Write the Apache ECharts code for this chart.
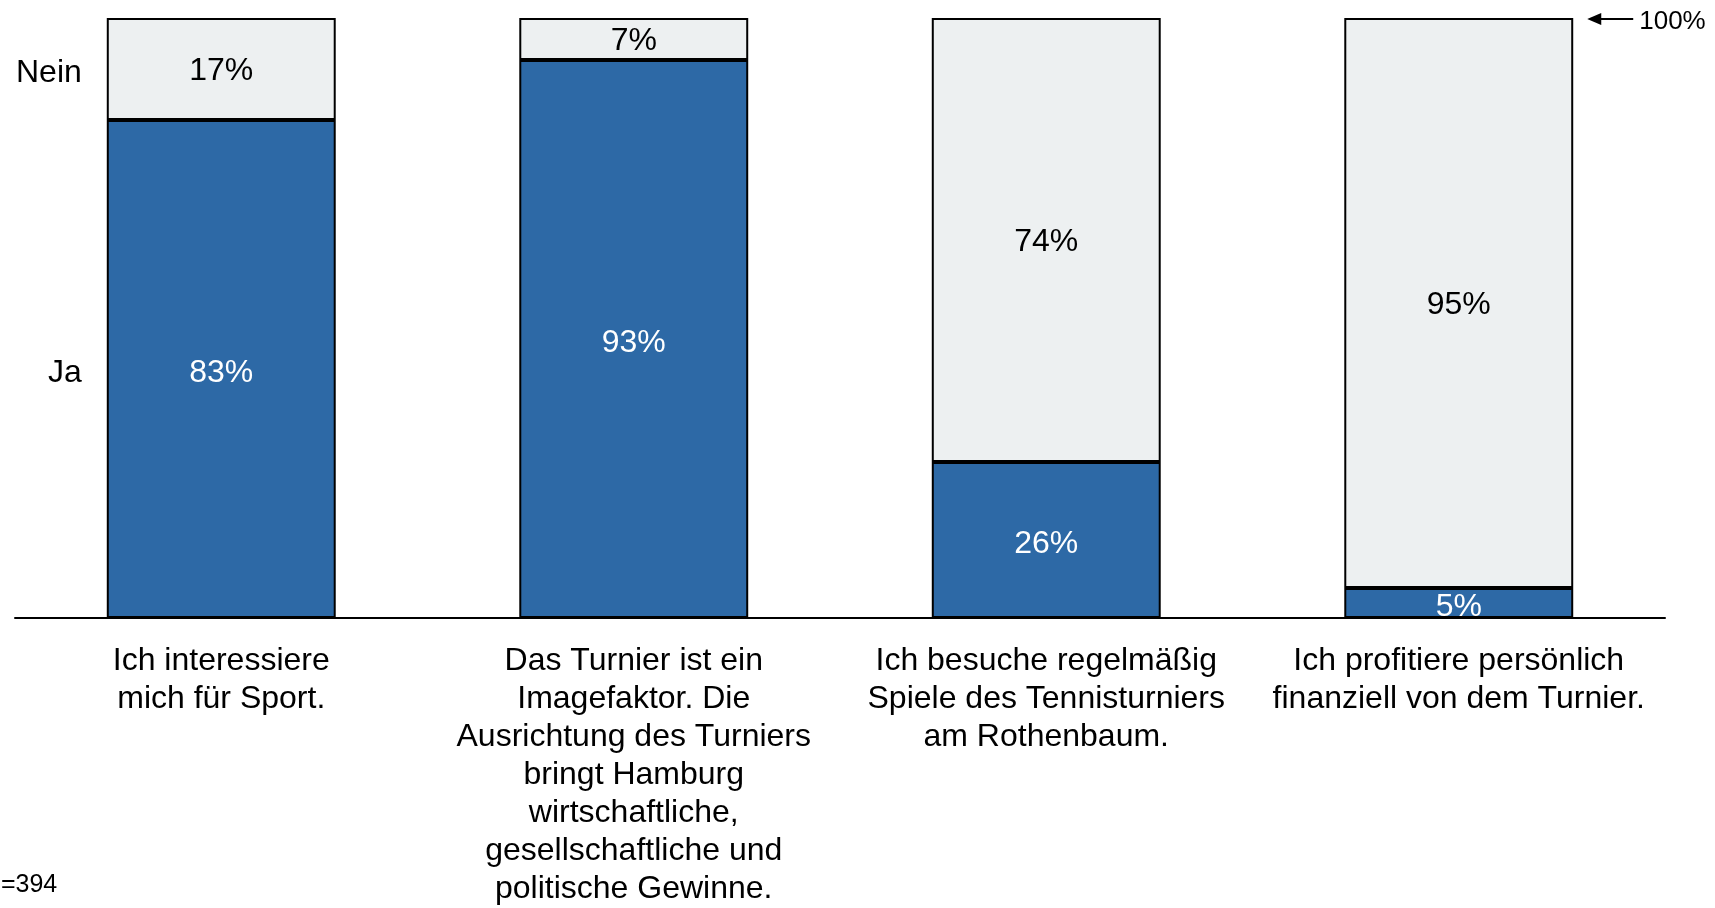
<!DOCTYPE html>
<html>
<head>
    <meta charset="utf-8" />
    <title>Tennisturnier am Rothenbaum</title>
    <style>
        html, body { margin: 0; padding: 0; background: #fff; }
        #charts { width: 1715px; height: 908px; }
    </style>
</head>
<body>
    <div id="charts"></div>
    <script src="https://cdn.jsdelivr.net/npm/echarts@6/dist/echarts.min.js"></script>
    <script type="text/javascript">
        // Daten
        var categories = [
            'Ich interessiere\nmich für Sport.',
            'Das Turnier ist ein\nImagefaktor. Die\nAusrichtung des Turniers\nbringt Hamburg\nwirtschaftliche,\ngesellschaftliche und\npolitische Gewinne.',
            'Ich besuche regelmäßig\nSpiele des Tennisturniers\nam Rothenbaum.',
            'Ich profitiere persönlich\nfinanziell von dem Turnier.'
        ];
        var jaValues = [83, 93, 26, 5];
        var neinValues = [17, 7, 74, 95];
        var seriesNames = ['Ja', 'Nein'];
        var sampleNote = 'n=394';

        var font = '"Liberation Sans", Arial, sans-serif';
        var myChart = echarts.init(document.getElementById('charts'));

        var option = {
            animation: false,
            grid: { left: 15, right: 50, top: 18, bottom: 290, outerBoundsMode: 'none', containLabel: false },
            xAxis: {
                type: 'category',
                data: categories,
                axisLine: { lineStyle: { color: '#000', width: 2 } },
                axisTick: { show: false },
                axisLabel: {
                    interval: 0,
                    margin: 24,
                    color: '#000',
                    fontFamily: font,
                    fontSize: 32,
                    lineHeight: 38
                }
            },
            yAxis: {
                type: 'value',
                min: 0,
                max: 100,
                show: false,
                splitLine: { show: false }
            },
            series: [
                {
                    name: seriesNames[0],
                    type: 'bar',
                    stack: 'a',
                    barWidth: '55.5%',
                    data: jaValues,
                    itemStyle: { color: '#2D69A6', borderColor: '#000', borderWidth: 2 },
                    label: {
                        show: true, position: 'inside', formatter: '{c}%', offset: [0, 4],
                        color: '#fff', fontFamily: font, fontSize: 32
                    }
                },
                {
                    name: seriesNames[1],
                    type: 'bar',
                    stack: 'a',
                    data: neinValues,
                    itemStyle: { color: '#EDF0F1', borderColor: '#000', borderWidth: 2 },
                    label: {
                        show: true, position: 'inside', formatter: '{c}%', offset: [0, 2],
                        color: '#000', fontFamily: font, fontSize: 32
                    }
                }
            ]
        };
        myChart.setOption(option);

        // Beschriftungen neben dem ersten Balken und Pfeil für 100%
        var x0 = myChart.convertToPixel({ xAxisIndex: 0 }, 0);
        var x3 = myChart.convertToPixel({ xAxisIndex: 0 }, 3);
        var bandW = (x3 - x0) / 3;
        var halfBar = bandW * 0.555 / 2;
        var yJa = myChart.convertToPixel({ yAxisIndex: 0 }, jaValues[0] / 2);
        var yNein = myChart.convertToPixel({ yAxisIndex: 0 }, jaValues[0] + neinValues[0] / 2);
        var yTop = myChart.convertToPixel({ yAxisIndex: 0 }, 100);
        var labelRight = x0 - halfBar - 25;
        var arrowX = x3 + halfBar + 14;

        myChart.setOption({
            graphic: [
                {
                    type: 'text', x: labelRight, y: yNein + 4,
                    style: { text: seriesNames[1], fill: '#000', font: '32px ' + font, textAlign: 'right', textVerticalAlign: 'middle' }
                },
                {
                    type: 'text', x: labelRight, y: yJa + 4,
                    style: { text: seriesNames[0], fill: '#000', font: '32px ' + font, textAlign: 'right', textVerticalAlign: 'middle' }
                },
                {
                    type: 'line',
                    shape: { x1: arrowX + 10, y1: yTop + 1, x2: arrowX + 46, y2: yTop + 1 },
                    style: { stroke: '#000', lineWidth: 2 }
                },
                {
                    type: 'polygon',
                    shape: { points: [[arrowX, yTop + 1], [arrowX + 14, yTop - 5], [arrowX + 14, yTop + 7]] },
                    style: { fill: '#000' }
                },
                {
                    type: 'text', x: arrowX + 52, y: yTop + 4,
                    style: { text: '100%', fill: '#000', font: '26px ' + font, textAlign: 'left', textVerticalAlign: 'middle' }
                },
                {
                    type: 'text', x: -13, y: 885,
                    style: { text: sampleNote, fill: '#000', font: '25px ' + font, textAlign: 'left', textVerticalAlign: 'middle' }
                }
            ]
        });
    </script>
</body>
</html>
